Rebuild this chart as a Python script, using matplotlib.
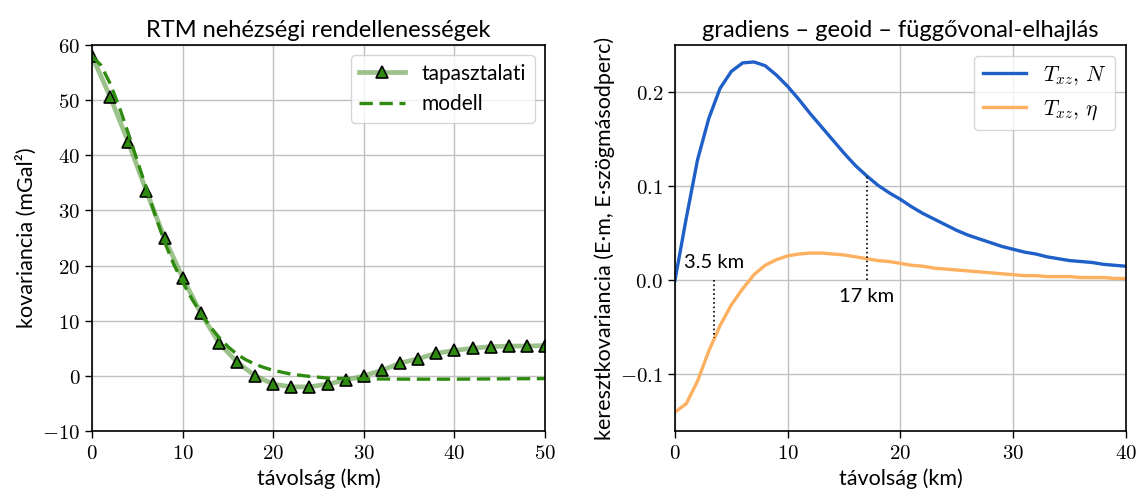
import numpy as np
import matplotlib
matplotlib.use('Agg')
import matplotlib.pyplot as plt
from matplotlib.ticker import FuncFormatter

plt.rcParams['font.family'] = ['Lato', 'DejaVu Sans']
plt.rcParams['mathtext.fontset'] = 'cm'

# RTM gravity anomaly covariance: empirical values and fitted model
dist_emp = np.arange(0, 51, 2)
cov_emp = [58.0, 50.6, 42.4, 33.5, 25.0, 17.8, 11.4, 6.0, 2.5, 0.0, -1.5, -2.0, -2.0,
           -1.5, -0.8, 0.0, 1.0, 2.3, 3.1, 4.1, 4.6, 5.0, 5.3, 5.4, 5.4, 5.5]

dist_mod = [0, 1, 2, 3, 4, 5, 6, 7, 8, 9, 10, 11, 12, 13, 14, 15, 16, 17, 18, 19, 20,
            22, 24, 26, 28, 30, 35, 40, 45, 50]
cov_mod = [58.0, 56.3, 53.0, 48.8, 44.0, 39.0, 34.0, 29.0, 24.3, 20.3, 17.0, 14.0,
           11.4, 9.0, 7.0, 5.3, 3.9, 2.9, 2.1, 1.5, 1.0, 0.3, -0.1, -0.4, -0.5,
           -0.55, -0.6, -0.6, -0.55, -0.5]

# cross-covariances of the gradient with geoid height and deflection
dist_x = np.arange(0, 41, 1)
cov_N = [0.000, 0.066, 0.128, 0.172, 0.204, 0.222, 0.231, 0.232, 0.228, 0.218,
         0.206, 0.192, 0.177, 0.163, 0.149, 0.135, 0.122, 0.111, 0.101, 0.093,
         0.086, 0.078, 0.071, 0.065, 0.059, 0.053, 0.048, 0.044, 0.040, 0.036,
         0.033, 0.030, 0.028, 0.025, 0.023, 0.021, 0.020, 0.019, 0.017, 0.016, 0.015]
cov_eta = [-0.140, -0.131, -0.107, -0.075, -0.048, -0.026, -0.009, 0.006, 0.016, 0.022,
           0.026, 0.028, 0.029, 0.029, 0.028, 0.027, 0.025, 0.023, 0.021, 0.020,
           0.018, 0.016, 0.015, 0.013, 0.012, 0.011, 0.010, 0.009, 0.008, 0.007,
           0.006, 0.005, 0.005, 0.004, 0.004, 0.004, 0.003, 0.003, 0.003, 0.002, 0.002]

mark_eta_x, mark_N_x = 3.5, 17.0

fig = plt.figure(figsize=(11.39, 4.93), dpi=100)
ax1 = fig.add_axes([0.0808, 0.1258, 0.3977, 0.7829])
ax2 = fig.add_axes([0.5926, 0.1258, 0.3960, 0.7829])

fs = 15.5
int_fmt = FuncFormatter(lambda v, p: r'$%d$' % round(v))

ax1.plot(dist_emp, cov_emp, '-', color=(0.45, 0.66, 0.36, 0.7), lw=3.4,
         marker='^', ms=9, mfc='#2f8a10', mec='black', mew=1.2, label='tapasztalati')
ax1.plot(dist_mod, cov_mod, color='#2f8a10', lw=2.4, ls=(0, (4, 2)), label='modell')
ax1.set_xlim(0, 50)
ax1.set_ylim(-10, 60)
ax1.set_xticks(range(0, 51, 10))
ax1.set_yticks(range(-10, 61, 10))
ax1.xaxis.set_major_formatter(int_fmt)
ax1.yaxis.set_major_formatter(int_fmt)
ax1.set_title('RTM nehézségi rendellenességek', fontsize=17)
ax1.set_xlabel('távolság (km)', fontsize=fs)
ax1.set_ylabel('kovariancia (mGal²)', fontsize=fs)
ax1.legend(loc='upper right', fontsize=15, handlelength=2.2)

ax2.plot(dist_x, cov_N, color='#1f5fc8', lw=2.4, label=r'$T_{xz},\,N$')
ax2.plot(dist_x, cov_eta, color='#fdb060', lw=2.4, label=r'$T_{xz},\,\eta$')
y_eta = np.interp(mark_eta_x, dist_x, cov_eta)
y_N = np.interp(mark_N_x, dist_x, cov_N)
ax2.plot([mark_eta_x, mark_eta_x], [0, y_eta], ':', color='black', lw=1.2)
ax2.plot([mark_N_x, mark_N_x], [0, y_N], ':', color='black', lw=1.2)
ax2.text(mark_eta_x, 0.010, '3.5 km', ha='center', va='bottom', fontsize=fs - 1)
ax2.text(mark_N_x, -0.008, '17 km', ha='center', va='top', fontsize=fs - 1)
ax2.set_xlim(0, 40)
ax2.set_ylim(-0.16, 0.25)
ax2.set_xticks(range(0, 41, 10))
ax2.set_yticks([-0.1, 0.0, 0.1, 0.2])
ax2.xaxis.set_major_formatter(int_fmt)
ax2.yaxis.set_major_formatter(FuncFormatter(lambda v, p: r'$%.1f$' % v))
ax2.set_title('gradiens – geoid – függővonal-elhajlás', fontsize=17)
ax2.set_xlabel('távolság (km)', fontsize=fs)
ax2.set_ylabel('keresztkovariancia (E·m, E·szögmásodperc)', fontsize=fs)
ax2.legend(loc='upper right', fontsize=15.5, handlelength=2.0)

for ax in (ax1, ax2):
    ax.grid(True, color='#c0c0c0', lw=1.0)
    ax.set_axisbelow(True)
    ax.tick_params(labelsize=15, length=5, width=1.0)
    for s in ax.spines.values():
        s.set_linewidth(1.2)

fig.savefig('out.png', dpi=100)
